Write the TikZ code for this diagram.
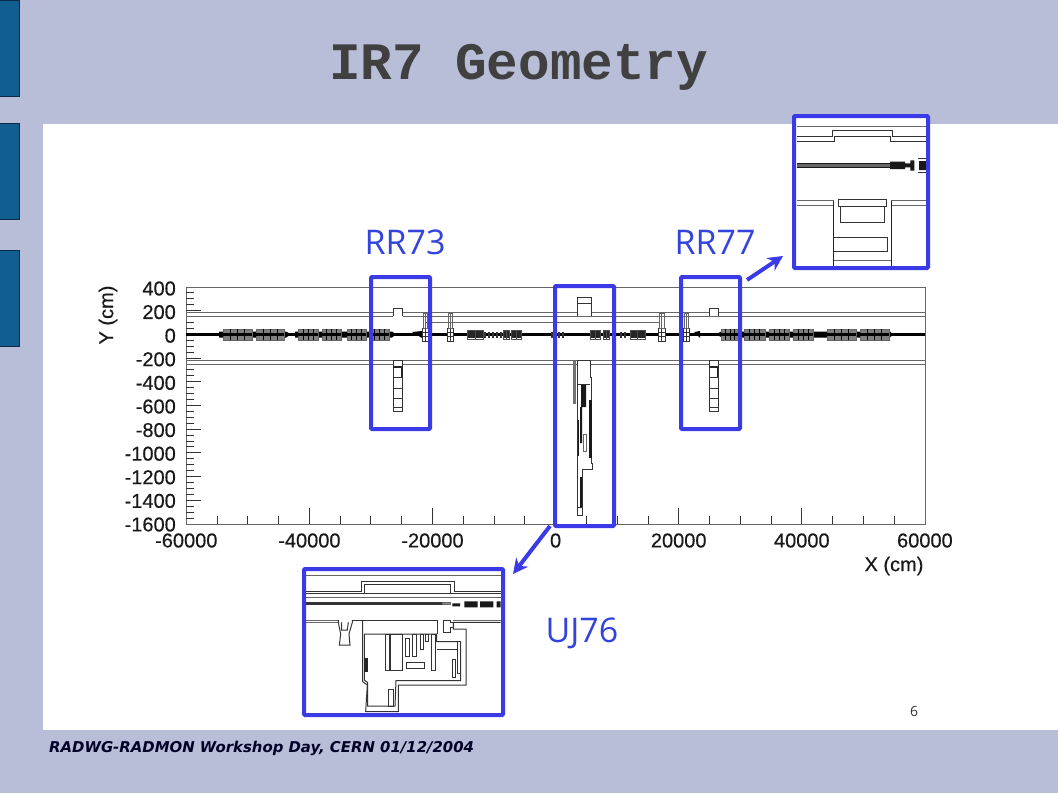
\documentclass[tikz,border=0pt]{standalone}
\usepackage{fontspec}
\setmainfont{Liberation Sans}
\newfontfamily\plotfont[FakeBold=0.35]{Liberation Sans}
\newfontfamily\titlefont{Liberation Mono}
\newfontfamily\labelfont{Open Sans}
\newfontfamily\footfont{DejaVu Sans}
\usetikzlibrary{arrows.meta,positioning}
\definecolor{slidebg}{HTML}{B8BDD8}
\definecolor{tabfill}{HTML}{125E91}
\definecolor{tabline}{HTML}{0B2A45}
\definecolor{zoomblue}{HTML}{3A3AE6}
\definecolor{labelblue}{HTML}{3344DD}
\definecolor{titlegray}{HTML}{404040}
\tikzset{
  >=Stealth,
  tabbox/.style={draw=tabline, fill=tabfill, line width=0.8pt},
  zoombox/.style={draw=zoomblue, line width=4pt, rounded corners=1pt, inner sep=0pt, outer sep=0pt},
  zoomarrow/.style={-{Stealth[length=15pt,width=15pt]}, draw=zoomblue, line width=4pt},
  zoomlabel/.style={text=labelblue, font=\labelfont\fontsize{34}{34}\selectfont, inner sep=0pt},
  ticklabel/.style={font=\plotfont\fontsize{20}{20}\selectfont, inner sep=0pt, text=black!90},
  geo/.style={draw=black!80, line width=1pt},
  geolight/.style={draw=black!60, line width=1pt},
  magnet/.style={fill=black!50, draw=black!60, line width=0.4pt}
}
\begin{document}
\begin{tikzpicture}[x=1pt,y=-1pt]
\useasboundingbox (0,0) rectangle (1058,793);
% slide background
\fill[slidebg] (0,0) rectangle (1058,793);
\fill[white] (43,124) rectangle (1058,730);
\foreach \t/\b in {0/96,123/219,250/346}
  \draw[tabbox] (-2,\t) rectangle (19.5,\b);
\node[font=\titlefont\bfseries\fontsize{52.6}{52.6}\selectfont, text=titlegray, inner sep=0pt] (title) at (518.5,67) {IR7 Geometry};
\node[font=\footfont\bfseries\itshape\fontsize{14.9}{14.9}\selectfont, text=black!85!blue, anchor=west, inner sep=0pt] (footer) at (49,748.5) {RADWG-RADMON Workshop Day, CERN 01/12/2004};
\node[font=\labelfont\fontsize{14}{14}\selectfont, text=black!80, inner sep=0pt] (pagenum) at (914,711) {6};
% plot frame and ticks
\draw[geolight] (186.3,287) rectangle (925,524);
\foreach \i in {1,...,23}
  \draw[geo] ({186.3+\i*30.78},524) -- ++(0,-8);
\foreach \i in {4,8,...,20}
  \draw[geo] ({186.3+\i*30.78},524) -- ++(0,-16);
\foreach \i in {1,...,39}
  \draw[geo] (186.3,{287+\i*5.925}) -- ++(8,0);
\foreach \i in {4,8,...,36}
  \draw[geo] (186.3,{287+\i*5.925}) -- ++(15,0);
\foreach \v [count=\n from 0] in {400,200,0,-200,-400,-600,-800,-1000,-1200,-1400,-1600}
  \node[ticklabel, anchor=east] (ylab\n) at (176,{288.5+\n*23.6}) {\v};
\foreach \v [count=\n from 0] in {-60000,-40000,-20000,0,20000,40000,60000}
  \node[ticklabel] (xlab\n) at ({186.3+\n*123.1},540.5) {\v};
\node[ticklabel, rotate=90] (ytitle) at (108,315) {Y (cm)};
\node[ticklabel] (xtitle) at (894,566) {X (cm)};
% tunnel walls
\draw[geolight] (186,312.7) -- (925,312.7);
\draw[geolight] (186,316.3) -- (393,316.3) (403,316.3) -- (925,316.3);
\draw[geolight] (426,322.3) -- (660,322.3);
\draw[geolight] (186,360.7) -- (925,360.7);
\draw[geolight] (186,364.3) -- (925,364.3);
% beam line
\draw[black, line width=3.2pt] (186,334.4) -- (925,334.4);
\fill[black] (219,331.5) rectangle (286,337.5) (286,331.5) -- (291,334.4) -- (286,337.5) -- cycle
  (295,331.5) rectangle (392,337.5) (392,331.5) -- (396,334.4) -- (392,337.5) -- cycle
  (722,331.5) rectangle (890,337.5) (722,331) -- (716,334.4) -- (722,337.5) -- cycle
  (890,331.5) -- (893,334.4) -- (890,337.5) -- cycle
  (412,332) -- (422,331) -- (422,338) -- cycle (694,332) -- (700,331) -- (700,338) -- cycle;
\foreach \a/\b in {223/252,256/284,298/318,322/341,347/366,369/389,721/739,744/765,769/789,793/813,827/856,860/889}{
  \fill[magnet] (\a,329) rectangle (\b,340);
  \fill[black] (\a,333) rectangle (\b,336);
  \foreach \f in {0.25,0.5,0.75}
    \draw[black, line width=0.8pt] ({\a+\f*(\b-\a)},329) -- ++(0,11);
}
% small magnets in the middle part
\foreach \a/\b in {467/483,503/509,511/521,590/600,603/609,630/645}{
  \fill[black!85] (\a,331) rectangle (\b,338);
  \draw[black!70, line width=0.5pt] (\a,330) rectangle (\b,339);
  \draw[black!70, line width=0.5pt] ({(\a+\b)/2},329.5) -- ({(\a+\b)/2},339.5);
}
\foreach \a in {484,488,492,496,500,551,558,562,620,624}
  \fill[black!80] (\a,331.5) rectangle ({\a+1.5},337.5);
% gates across the tunnel
\foreach \a/\b in {422/428,447/453,658/665,683/689}{
  \draw[geo, line width=0.7pt, fill=white] (\a,328.5) rectangle (\b,341);
  \draw[geo, line width=0.7pt] (\a,332) -- (\b,332) (\a,336) -- (\b,336) ({(\a+\b)/2},328.5) -- ({(\a+\b)/2},341);
  \draw[geolight, line width=0.7pt] ({\a+1},313) rectangle ({\b-1},328.5) ({(\a+\b)/2},313) -- ({(\a+\b)/2},328.5);
}
% RR alcoves
\foreach \a in {393.3,709}{
  \draw[geo, fill=white] (\a,316.3) -- (\a,308) -- ({\a+9.5},308) -- ({\a+9.5},316.3);
  \draw[geo, fill=white] (\a,360.7) rectangle ({\a+9.5},411);
  \draw[black!85, line width=1.4pt] (\a,367) -- ({\a+9.5},367);
  \draw[black!85, line width=1.4pt] ({\a+8.5},367) -- ({\a+8.5},377);
  \draw[geo] (\a,377.5) -- ({\a+9.5},377.5) (\a,388.5) -- ({\a+9.5},388.5) (\a,398.5) -- ({\a+9.5},398.5) (\a,407.5) -- ({\a+9.5},407.5);
}
% UJ76 in the main plot
\draw[geo, fill=white] (577,316.3) -- (577,297) -- (591,297) -- (591,316.3);
\draw[geo] (577,303) -- (591,303);
\draw[geo, fill=white] (577,360.7) -- (577,515) -- (582,515) -- (582,469) -- (592,469) -- (592,463) -- (591,463) -- (591,377) -- (590,377) -- (590,360.7) -- cycle;
\fill[black!55] (573,360.7) rectangle (576,404);
\draw[geo] (577,384) -- (590,384);
\fill[black!90] (581,385) rectangle (586,407) (580,407) rectangle (582,443);
\fill[black!90] (589,400) rectangle (591.5,458);
\fill[black!90] (578,420) rectangle (579,456);
\fill[black!90] (580,477) rectangle (582,507);
\draw[geolight] (583,434) rectangle (586,451);
\draw[geo, fill=white] (577,507) rectangle (582,515);
% zoom of UJ76
\node[draw=none, fill=white, minimum width=199pt, minimum height=146pt, inner sep=0pt] (ujback) at (403.5,642) {};
\begin{scope}[shift={(295,560)},scale=1/3]
\draw[geolight] (33,47) -- (617,47);
\draw[geo] (33,93) -- (198,93) -- (198,65) -- (477,65) -- (477,93) -- (617,93);
\draw[geo] (33,100) -- (617,100);
\draw[geo] (208,100) -- (208,72) -- (467,72) -- (467,100);
\draw[geolight] (33,111) -- (617,111);
\draw[black!80, line width=3pt] (33,130) -- (440,130);
\draw[black!60, fill=black!45, line width=0.4pt] (443,126) rectangle (467,134);
\fill[black!90] (472,130) rectangle (495,139) (508,124) rectangle (548,142) (555,124) rectangle (595,142) (605,124) rectangle (617,142);
\draw[geolight] (33,180) -- (130,180);
\draw[geolight] (33,187) -- (130,187);
\draw[geo] (130,180) -- (130,187) -- (137,222) -- (133,255) -- (165,255) -- (162,222) -- (172,187) -- (172,180);
\draw[geo] (140,187) -- (140,210) -- (157,210) -- (160,187);
\draw[geo] (172,180) -- (427,180);
\draw[geo] (203,180) -- (203,365) -- (217,375) -- (212,455) -- (310,455) -- (310,375) -- (513,375) -- (513,207) -- (475,207) -- (475,187) -- (617,187);
\draw[geo] (208,222) -- (208,360) -- (218,368) -- (218,438) -- (300,438) -- (303,362) -- (497,362) -- (497,245) -- (425,245) -- (425,222) -- cycle;
\draw[geo] (427,180) -- (427,222);
\draw[geo] (445,180) -- (445,218) -- (467,218) -- (467,203) -- (475,203) -- (475,187);
\draw[geo] (445,180) -- (467,180) -- (467,187) -- (475,187);
\draw[geolight] (475,180) -- (617,180);
\foreach \xa/\ya/\xb/\yb in {270/222/282/332,287/222/322/332,330/235/342/290,352/222/364/288,376/222/385/268,392/222/400/243,409/222/420/332,333/308/388/325,280/388/295/440,473/297/482/352,487/245/495/340}
  \draw[geo] (\xa,\ya) rectangle (\xb,\yb);
\fill[black!85] (208,295) rectangle (218,335);
\draw[geo] (425,268) -- (490,268);
\end{scope}
\node[draw=none, fill=white, minimum width=134pt, minimum height=152pt, inner sep=0pt] (rrback) at (861,192) {};
% zoom of RR77
\begin{scope}[shift={(785,105)},scale=1/3]
\draw[geolight] (36,65) -- (424,65);
\draw[geo] (36,95) -- (143,95) -- (143,76) -- (322,76) -- (322,95) -- (424,95);
\draw[geo] (36,108) -- (148,108) -- (148,95) -- (317,95) -- (317,108) -- (424,108);
\fill[black!60] (36,175) rectangle (315,188);
\draw[black!90, line width=0.8pt] (36,175) -- (315,175) (36,188) -- (315,188);
\fill[black!90] (315,170) rectangle (360,192) (360,175) rectangle (376,187) (376,166) rectangle (388,197) (402,168) rectangle (424,195);
\draw[geo] (400,160) -- (424,160) (400,203) -- (424,203);
\draw[geolight] (36,287) -- (147,287) (36,302) -- (147,302);
\draw[geolight] (318,287) -- (424,287) (318,302) -- (424,302);
\draw[black!85, line width=1.2pt] (146,287) -- (146,482) (319,287) -- (319,482);
\draw[geo] (161,284) rectangle (305,304);
\draw[geo] (167,304) rectangle (299,351);
\draw[geo] (148,398) -- (307,398) -- (307,440) -- (148,440);
\draw[geolight] (148,465) -- (319,465);
\end{scope}
% selection frames
\node[zoombox, minimum width=59pt, minimum height=152pt] (rrseventhree) at (400.5,353) {};
\node[zoombox, minimum width=59pt, minimum height=152pt] (rrsevenseven) at (710.5,353) {};
\node[zoombox, minimum width=59pt, minimum height=240pt] (ujsevensix) at (584.5,406) {};
\node[zoombox, minimum width=199pt, minimum height=146pt] (ujzoom) at (403.5,642) {};
\node[zoombox, minimum width=134pt, minimum height=152pt] (rrzoom) at (861,192) {};
\node[zoomlabel] (labelrrleft) at (405,242) {RR73};
\node[zoomlabel] (labelrrright) at (715,242) {RR77};
\node[zoomlabel] (labeluj) at (582,633) {UJ76};
\coordinate (ujstart) at (550,526);
\coordinate (ujend) at (513,574);
\coordinate (rrstart) at (747,280);
\coordinate (rrend) at (783,256);
\draw[zoomarrow] (ujstart) -- (ujend);
\draw[zoomarrow] (rrstart) -- (rrend);
\end{tikzpicture}
\end{document}
